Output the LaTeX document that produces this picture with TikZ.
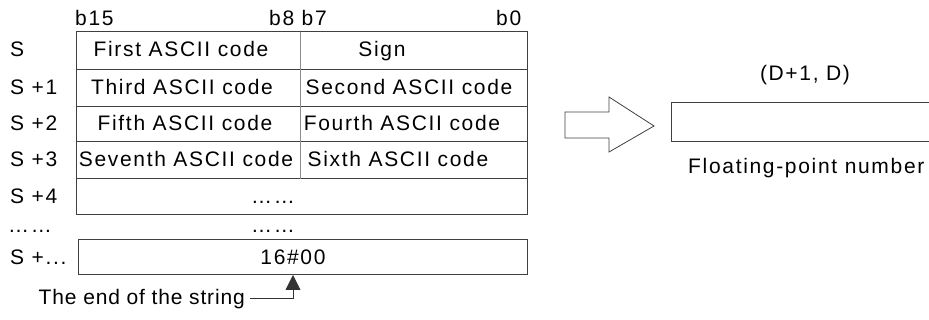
\documentclass[tikz,border=0pt]{standalone}
\usepackage{fontspec}
\setmainfont{Liberation Sans}[LetterSpace=8]
\usetikzlibrary{arrows.meta}
\begin{document}
\begin{tikzpicture}[x=1pt,y=-1pt,font=\fontsize{21}{25}\selectfont,
  boxline/.style={draw=black!75,line width=1pt},
  divline/.style={draw=black!45,line width=0.7pt},
  txt/.style={inner sep=0pt,anchor=base},
  lbl/.style={inner sep=0pt,anchor=base west}]
\useasboundingbox (0,0) rectangle (929,320);
% table
\draw[boxline] (76,32) rectangle (527,215);
\foreach \yy in {70,107,142,179} \draw[boxline] (76,\yy) -- (527,\yy);
\draw[divline] (300,32) -- (300,179);
\draw[boxline] (78,240) rectangle (527,275);
% headers
\node[lbl] (b15) at (75,26) {b15};
\node[lbl] (b8) at (269,26) {b8 b7};
\node[lbl] (b0) at (496,26) {b0};
% row labels
\node[lbl] (rS) at (10,57) {S};
\node[lbl] (rS1) at (10,95) {S +1};
\node[lbl] (rS2) at (10,131) {S +2};
\node[lbl] (rS3) at (10,167) {S +3};
\node[lbl] (rS4) at (10,204) {S +4};
\node[lbl] (rdots) at (8,233) {……};
\node[lbl] (rSn) at (10,265) {S +...};
% cells
\node[txt] (c1) at (181,57) {First ASCII code};
\node[txt] (c2) at (382,57) {Sign};
\node[txt] (c3) at (182,95) {Third ASCII code};
\node[txt] (c4) at (409,95) {Second ASCII code};
\node[txt] (c5) at (185,131) {Fifth ASCII code};
\node[txt] (c6) at (402,131) {Fourth ASCII code};
\node[txt] (c7) at (186,167) {Seventh ASCII code};
\node[txt] (c8) at (398,167) {Sixth ASCII code};
\node[txt] (c9) at (273,204) {……};
\node[txt] (c10) at (273,233) {……};
\node[txt] (end) at (293,265) {16\#00};
% end-of-string pointer
\coordinate (tip) at (293,275);
\coordinate (bend) at (293,298);
\node[inner sep=0pt,anchor=east,font=\fontsize{21}{25}\selectfont\addfontfeatures{LetterSpace=4}] (eos) at (245,299) {The end of the string};
\draw[black!80,line width=0.9pt,-{Triangle[length=15pt,width=15pt]}] ([xshift=5pt]eos.east|-bend) -- (bend) -- (tip);
% hollow arrow
\draw[boxline,line width=0.8pt] (565,112) -- (609,112) -- (609,97) -- (654,126) -- (609,152) -- (609,138) -- (565,138) -- cycle;
% result box
\draw[boxline] (929,103) -- (671,103) -- (671,142) -- (929,142);
\node[txt] (dd) at (805,81) {(D+1, D)};
\node[lbl] (fp) at (688,174) {Floating-point number};
\end{tikzpicture}
\end{document}
